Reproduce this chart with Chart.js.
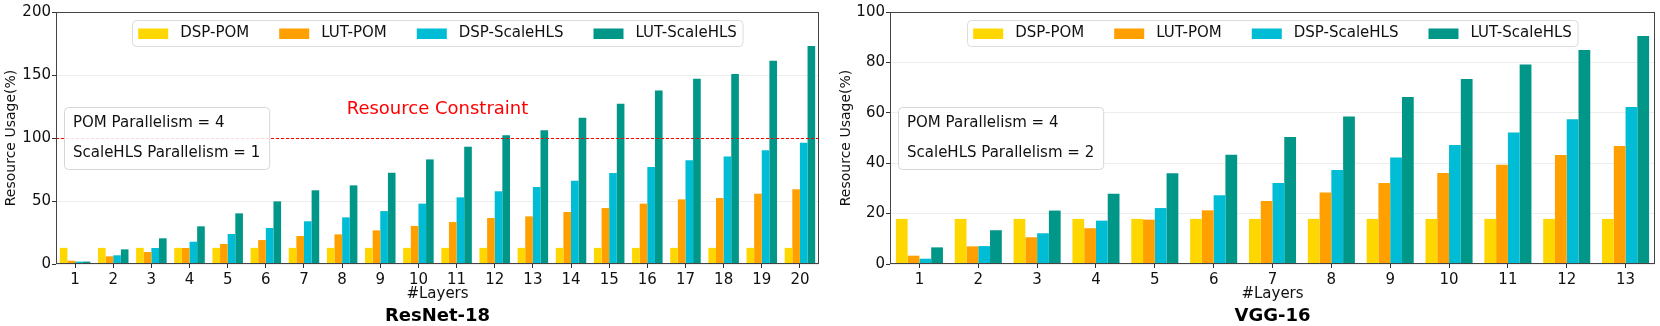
<!DOCTYPE html>
<html>
<head>
<meta charset="utf-8">
<script src="https://cdn.jsdelivr.net/npm/chart.js@4.4.0/dist/chart.umd.min.js"></script>
<style>
  html, body { margin: 0; padding: 0; background: #fff; }
  #wrap { position: relative; width: 1660px; height: 326px; }
  .box { position: absolute; top: 0; width: 830px; height: 326px; }
</style>
</head>
<body>
<div id="wrap">
  <div class="box" style="left:0"><canvas id="resnet"></canvas></div>
  <div class="box" style="left:830px"><canvas id="vgg"></canvas></div>
</div>
<script>
// series names + colours
const seriesNames = ["DSP-POM", "LUT-POM", "DSP-ScaleHLS", "LUT-ScaleHLS"];
const seriesColors = ["#FFD700", "#FFA000", "#00BCD4", "#009688"];

// ResNet-18
const resnetLayers = ["1","2","3","4","5","6","7","8","9","10","11","12","13","14","15","16","17","18","19","20"];
const resnetDspPom = [12.8,12.8,12.8,12.8,12.8,12.8,12.8,12.8,12.8,12.8,12.8,12.8,12.8,12.8,12.8,12.8,12.8,12.8,12.8,12.8];
const resnetLutPom = [2.6,6.1,9.5,12.7,15.9,19,22.2,23.5,26.7,30.2,33.3,36.5,37.8,41.3,44.4,47.9,51.3,52.4,55.8,59.3];
const resnetDspHls = [1.9,6.9,12.7,17.7,23.8,28.6,33.9,37,42,47.9,52.9,57.7,61.1,66.1,72.2,77,82.3,85.4,90.2,96.3];
const resnetLutHls = [1.9,11.6,20.4,29.9,40.2,49.7,58.5,62.4,72.5,83,93.1,102.1,106.1,116.1,127.2,137.6,147.1,150.8,161.3,173];
const resnetTicks = [0, 50, 100, 150, 200];
const resnetNote = ["POM Parallelism = 4", "ScaleHLS Parallelism = 1"];
const resnetLimit = 100;

// VGG-16
const vggLayers = ["1","2","3","4","5","6","7","8","9","10","11","12","13"];
const vggDspPom = [17.9,17.9,17.9,17.9,17.9,17.9,17.9,17.9,17.9,17.9,17.9,17.9,17.9];
const vggLutPom = [3.3,7,10.6,14.2,17.6,21.3,25,28.4,32.1,36.1,39.4,43.3,46.8];
const vggDspHls = [2.1,7.1,12.2,17.2,22.2,27.3,32.1,37.3,42.3,47.2,52.2,57.4,62.3];
const vggLutHls = [6.6,13.4,21.2,27.9,36,43.4,50.4,58.5,66.3,73.4,79.2,84.9,90.5];
const vggTicks = [0, 20, 40, 60, 80, 100];
const vggNote = ["POM Parallelism = 4", "ScaleHLS Parallelism = 2"];

const FONT = "'DejaVu Sans', sans-serif";

function roundRect(ctx, x, y, w, h, r) {
  ctx.beginPath();
  ctx.moveTo(x + r, y);
  ctx.lineTo(x + w - r, y);
  ctx.quadraticCurveTo(x + w, y, x + w, y + r);
  ctx.lineTo(x + w, y + h - r);
  ctx.quadraticCurveTo(x + w, y + h, x + w - r, y + h);
  ctx.lineTo(x + r, y + h);
  ctx.quadraticCurveTo(x, y + h, x, y + h - r);
  ctx.lineTo(x, y + r);
  ctx.quadraticCurveTo(x, y, x + r, y);
  ctx.closePath();
}

// frame, constraint line, note box, legend, subtitle
const extras = {
  id: "extras",
  afterDatasetsDraw(chart, args, opts) {
    const ctx = chart.ctx;
    const a = chart.chartArea;
    const y = chart.scales.y;
    ctx.save();
    if (opts.limit !== undefined) {
      const py = Math.round(y.getPixelForValue(opts.limit)) + 0.5;
      ctx.strokeStyle = "#ff0000";
      ctx.lineWidth = 1;
      ctx.setLineDash([3, 2]);
      ctx.beginPath();
      ctx.moveTo(a.left, py);
      ctx.lineTo(a.right, py);
      ctx.stroke();
      ctx.setLineDash([]);
      ctx.fillStyle = "#ff0000";
      ctx.font = "18px " + FONT;
      ctx.textAlign = "center";
      ctx.textBaseline = "middle";
      ctx.fillText(opts.limitLabel, (a.left + a.right) / 2, py - 29);
    }
    // frame
    ctx.strokeStyle = "#444";
    ctx.lineWidth = 1;
    ctx.strokeRect(Math.round(a.left) + 0.5, Math.round(a.top) + 0.5,
      Math.round(a.right - a.left) - 1, Math.round(a.bottom - a.top) - 1);
    ctx.restore();
  },
  afterDraw(chart, args, opts) {
    const ctx = chart.ctx;
    const a = chart.chartArea;
    ctx.save();
    // note box
    ctx.font = "15px " + FONT;
    let tw = 0;
    opts.note.forEach(t => { tw = Math.max(tw, ctx.measureText(t).width); });
    const bx = a.left + 8, bh = 62, by = (a.top + a.bottom) / 2 - bh / 2;
    const bw = tw + 18;
    roundRect(ctx, bx + 0.5, by + 0.5, bw, bh, 4);
    ctx.fillStyle = "rgba(255,255,255,0.85)";
    ctx.fill();
    ctx.strokeStyle = "#d6d6d6";
    ctx.stroke();
    ctx.fillStyle = "#111";
    ctx.textAlign = "left";
    ctx.textBaseline = "middle";
    ctx.fillText(opts.note[0], bx + 9, by + 16);
    ctx.fillText(opts.note[1], bx + 9, by + 46);

    // legend
    const ds = chart.data.datasets;
    const widths = ds.map(d => ctx.measureText(d.label).width);
    const sw = 30, gap = 12, col = 30, pad = 6;
    let total = pad * 2 + ds.length * (sw + gap) + (ds.length - 1) * col;
    widths.forEach(w => total += w);
    const lx = (a.left + a.right) / 2 - total / 2;
    const ly = a.top + 8, lh = 26;
    roundRect(ctx, Math.round(lx) + 0.5, ly + 0.5, total, lh, 4);
    ctx.fillStyle = "rgba(255,255,255,0.85)";
    ctx.fill();
    ctx.strokeStyle = "#dcdcdc";
    ctx.stroke();
    let x = lx + pad;
    const cy = ly + 13.5;
    ds.forEach((d, i) => {
      ctx.fillStyle = d.backgroundColor;
      ctx.fillRect(x, cy - 5, sw, 10.5);
      x += sw + gap;
      ctx.fillStyle = "#111";
      ctx.fillText(d.label, x, cy);
      x += widths[i] + col;
    });

    // subtitle
    ctx.font = "bold 18px " + FONT;
    ctx.textAlign = "center";
    ctx.fillStyle = "#000";
    ctx.fillText(opts.subtitle, (a.left + a.right) / 2, 316);
    ctx.restore();
  }
};

function makeChart(id, labels, series, ticks, yWidth, padRight, titlePad, ex) {
  const datasets = series.map((vals, i) => ({
    label: seriesNames[i],
    data: vals,
    backgroundColor: seriesColors[i],
    borderWidth: 0,
    categoryPercentage: 0.8,
    barPercentage: 1.0
  }));
  return new Chart(document.getElementById(id), {
    type: "bar",
    data: { labels: labels, datasets: datasets },
    plugins: [extras],
    options: {
      responsive: true,
      maintainAspectRatio: false,
      animation: false,
      layout: { padding: { left: 0, right: padRight, top: 12, bottom: 22 } },
      plugins: {
        legend: { display: false },
        tooltip: { enabled: false },
        extras: ex
      },
      scales: {
        x: {
          grid: { display: true, drawOnChartArea: false, offset: false, tickLength: 4, tickColor: "#333" },
          border: { display: false },
          ticks: { color: "#111", font: { family: FONT, size: 15 }, padding: 3, maxRotation: 0, autoSkip: false },
          title: { display: true, text: "#Layers", color: "#111", font: { family: FONT, size: 15 }, padding: { top: 0, bottom: 1 } },
          afterFit(s) { s.height = 40; }
        },
        y: {
          min: 0,
          max: ticks[ticks.length - 1],
          afterBuildTicks(s) { s.ticks = ticks.map(v => ({ value: v })); },
          grid: { color: "rgba(0,0,0,0.07)", tickLength: 4, tickColor: "#333" },
          border: { display: false },
          ticks: { color: "#111", font: { family: FONT, size: 15 }, padding: 1 },
          title: { display: true, text: "Resource Usage(%)", color: "#111", font: { family: FONT, size: 14 }, padding: { top: titlePad, bottom: 0 } },
          afterFit(s) { s.width = yWidth; }
        }
      }
    }
  });
}

makeChart("resnet", resnetLayers, [resnetDspPom, resnetLutPom, resnetDspHls, resnetLutHls],
  resnetTicks, 56, 11, 3,
  { note: resnetNote, subtitle: "ResNet-18", limit: resnetLimit, limitLabel: "Resource Constraint" });

makeChart("vgg", vggLayers, [vggDspPom, vggLutPom, vggDspHls, vggLutHls],
  vggTicks, 60, 5, 7.5,
  { note: vggNote, subtitle: "VGG-16" });
</script>
</body>
</html>
